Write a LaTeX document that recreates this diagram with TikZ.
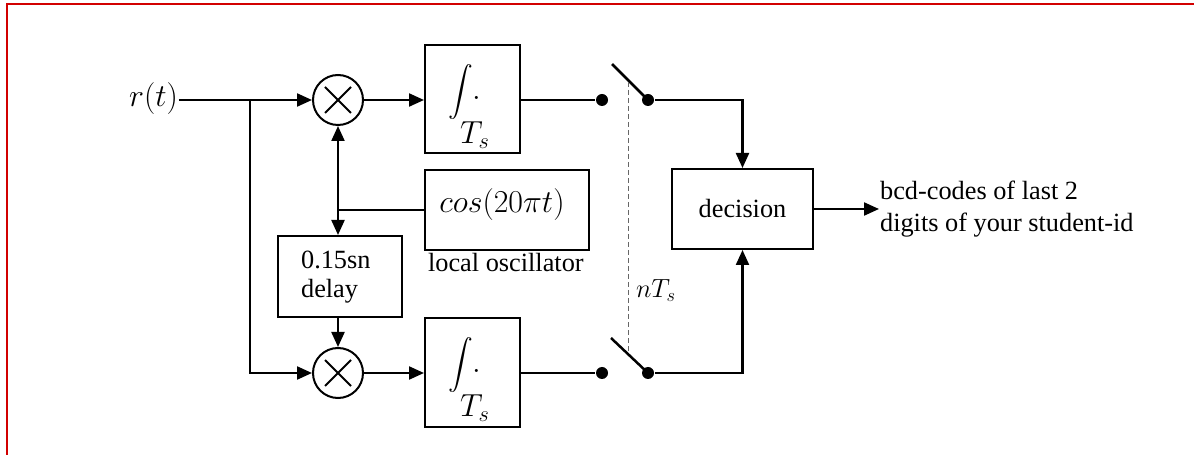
\RequirePackage{fix-cm}
\documentclass[tikz,border=0pt]{standalone}
\usepackage{exscale}
\usepackage[no-math]{fontspec}
\setmainfont{Liberation Serif}
\usetikzlibrary{arrows.meta}
\newcommand{\intTs}{$\displaystyle\int\hspace{-18bp}\rlap{\raisebox{-44bp}{$T_s$}}\hspace{12bp}.$}
\begin{document}
\begin{tikzpicture}[x=1bp,y=-1bp,line width=2.2bp,
  blk/.style={draw,line width=2bp,inner sep=0pt,minimum width=#1},
  arr/.style={-{Triangle[length=15bp,width=13bp]}},
  mult/.style={circle,draw,line width=2bp,minimum size=50bp,inner sep=0pt},
  txt/.style={font=\fontsize{26.4}{31}\selectfont,inner sep=0pt},
  mth/.style={font=\fontsize{32}{36}\selectfont,inner sep=0pt},
  dot/.style={circle,fill,inner sep=0pt,minimum width=10bp,minimum height=12bp},
  frame/.style={draw={rgb,255:red,210;green,0;blue,0},line width=1.6bp}]
\useasboundingbox (0,0) rectangle (1194,455);
\draw[frame] (1200,4) -- (7,4) -- (7,460);

% blocks
\node[blk=95bp,minimum height=108bp] (int1) at (472.5,99) {};
\node[blk=95bp,minimum height=109bp] (int2) at (472.5,372.5) {};
\node[blk=164bp,minimum height=80bp] (osc) at (507,210) {};
\node[blk=124bp,minimum height=81bp] (dly) at (340,276.5) {};
\node[blk=141bp,minimum height=80bp] (dec) at (742.5,209) {};
\node[mult] (m1) at (338,100) {};
\node[mult] (m2) at (338,373) {};
\draw[line width=2bp] (m1) ++(-13,-13) -- ++(26,26) (m1) ++(13,-13) -- ++(-26,26);
\draw[line width=2bp] (m2) ++(-13,-13) -- ++(26,26) (m2) ++(13,-13) -- ++(-26,26);

% texts
\node[mth,anchor=base west] (rt) at (128,107) {$r(t)$};
\node[mth,anchor=base west] (i1) at (447,100) {\intTs};
\node[mth,anchor=base west] (i2) at (447,373) {\intTs};
\node[mth,anchor=base] (cs) at (502,213) {$cos(20\pi t)$};
\node[txt,anchor=base west] (lo) at (427,272) {local oscillator};
\node[txt,anchor=base west] (d1) at (300,269) {0.15sn};
\node[txt,anchor=base west] (d2) at (300,298) {delay};
\node[txt] (dt) at (dec.center) {decision};
\node[txt,anchor=base west] (nt) at (635,298) {$nT_s$};
\node[txt,anchor=base west] (o1) at (879,200) {bcd-codes of last 2};
\node[txt,anchor=base west] (o2) at (879,232) {digits of your student-id};

% switch points
\node[dot] (s1a) at (602,100) {};
\node[dot] (s1b) at (648,100) {};
\node[dot] (s2a) at (602,373) {};
\node[dot] (s2b) at (648,373) {};
\coordinate (lv1) at (612,64);
\coordinate (lv2) at (611,338);
\coordinate (b1) at (250,100);
\coordinate (j) at (338,210);
\coordinate (out) at (879,209);

% wires
\draw[arr] (rt.east |- b1) -- (m1.west);
\draw[arr] (b1) |- (m2.west);
\draw[arr] (m1.east) -- (int1.west |- m1);
\draw[arr] (m2.east) -- (int2.west |- m2);
\draw (osc.west |- j) -- (j);
\draw[arr] (j) -- (m1.south);
\draw[arr] (j) -- (j |- dly.north);
\draw[arr] (dly.south -| m2.north) -- (m2.north);
\draw (int1.east |- s1a) -- (s1a);
\draw (int2.east |- s2a) -- (s2a);
\draw[line width=2.5bp] (s1b.center) -- (lv1);
\draw[line width=2.5bp] (s2b.center) -- (lv2);
\draw[gray!80!black,line width=1bp,dash pattern=on 5bp off 3bp] (628,82) -- (628,352);
\draw[arr] (s1b) -| (dec.north);
\draw[arr] (s2b) -| (dec.south);
\draw[arr] (dec.east) -- (out);
\end{tikzpicture}
\end{document}
